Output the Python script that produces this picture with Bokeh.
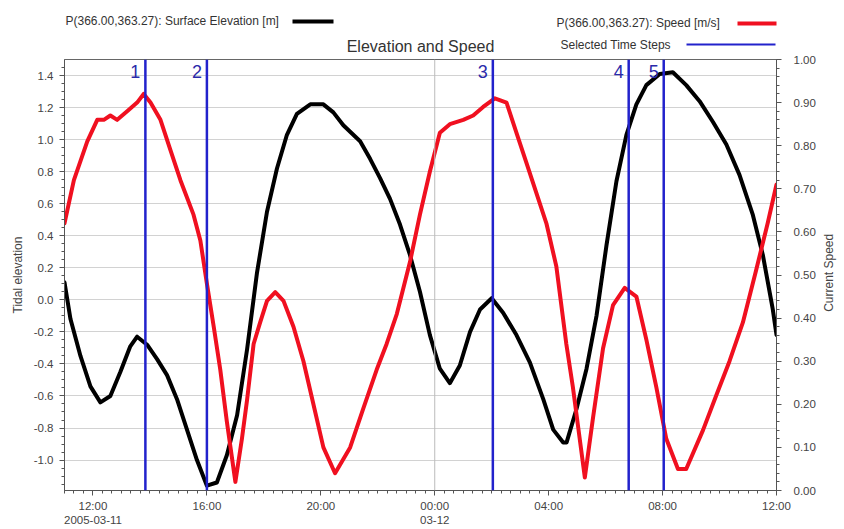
import math
import numpy as np
from bokeh.plotting import figure
from bokeh.layouts import column, row
from bokeh.models import Range1d, LinearAxis, FixedTicker, Span, Label, NumeralTickFormatter
from bokeh.core.properties import value
from bokeh.embed import file_html
from bokeh.resources import INLINE

# hours since 2005-03-11 00:00
elev_hours = [11.00, 11.21, 11.56, 11.91, 12.26, 12.61, 12.96, 13.31, 13.55, 13.90,
              14.25, 14.60, 14.95, 15.30, 15.65, 16.00, 16.35, 16.70, 17.06, 17.41,
              17.76, 18.11, 18.46, 18.81, 19.16, 19.63, 20.09, 20.44, 20.79, 21.38,
              21.73, 22.08, 22.43, 22.78, 23.13, 23.48, 23.83, 24.18, 24.53, 24.88,
              25.24, 25.59, 26.00, 26.40, 26.87, 27.34, 27.81, 28.16, 28.51, 28.63,
              28.98, 29.33, 29.68, 30.03, 30.38, 30.73, 31.08, 31.43, 31.90, 32.36,
              32.83, 33.30, 33.77, 34.24, 34.70, 35.17, 35.52, 35.87, 36.00]
elevation = [0.11, -0.12, -0.35, -0.54, -0.64, -0.60, -0.45, -0.29, -0.23, -0.28,
             -0.37, -0.47, -0.62, -0.81, -1.00, -1.16, -1.14, -0.97, -0.72, -0.31,
             0.17, 0.55, 0.82, 1.03, 1.16, 1.22, 1.22, 1.17, 1.09, 0.99,
             0.88, 0.76, 0.63, 0.47, 0.28, 0.05, -0.22, -0.43, -0.52, -0.41,
             -0.20, -0.06, 0.01, -0.08, -0.22, -0.39, -0.62, -0.81, -0.89, -0.89,
             -0.68, -0.43, -0.10, 0.34, 0.74, 1.03, 1.22, 1.34, 1.41, 1.42,
             1.34, 1.24, 1.11, 0.97, 0.78, 0.53, 0.28, -0.06, -0.22]

speed_hours = [11.00, 11.33, 11.80, 12.15, 12.38, 12.61, 12.85, 13.20, 13.55, 13.78,
               14.02, 14.37, 14.72, 15.07, 15.53, 15.77, 16.00, 16.24, 16.47, 16.70,
               17.00, 17.23, 17.41, 17.64, 17.87, 18.11, 18.40, 18.69, 19.04, 19.39,
               19.74, 20.09, 20.50, 21.03, 21.49, 21.96, 22.31, 22.67, 23.13, 23.48,
               23.83, 24.18, 24.53, 25.00, 25.35, 25.70, 26.11, 26.52, 26.87, 27.22,
               27.57, 27.92, 28.27, 28.62, 28.85, 29.27, 29.56, 29.91, 30.26, 30.67,
               31.08, 31.43, 31.78, 32.13, 32.54, 32.83, 33.42, 33.88, 34.35, 34.82,
               35.28, 35.69, 36.00]
speed = [0.62, 0.72, 0.81, 0.86, 0.86, 0.87, 0.86, 0.88, 0.90, 0.92,
         0.90, 0.86, 0.79, 0.72, 0.64, 0.58, 0.48, 0.38, 0.28, 0.16,
         0.02, 0.12, 0.21, 0.34, 0.39, 0.44, 0.46, 0.44, 0.38, 0.30,
         0.20, 0.10, 0.04, 0.10, 0.19, 0.28, 0.34, 0.41, 0.53, 0.64,
         0.74, 0.83, 0.85, 0.86, 0.87, 0.89, 0.91, 0.90, 0.83, 0.76,
         0.69, 0.62, 0.52, 0.34, 0.24, 0.03, 0.17, 0.33, 0.43, 0.47,
         0.45, 0.35, 0.24, 0.12, 0.05, 0.05, 0.14, 0.22, 0.30, 0.39,
         0.51, 0.62, 0.71]

step_hours = [13.84, 16.00, 26.04, 30.81, 32.04]
step_labels = ["1", "2", "3", "4", "5"]

x_ticks = [12, 16, 20, 24, 28, 32, 36]
x_tick_labels = ["12:00\n2005-03-11", "16:00", "20:00", "00:00\n03-12", "04:00", "08:00", "12:00"]
elev_ticks = [-1.0, -0.8, -0.6, -0.4, -0.2, 0.0, 0.2, 0.4, 0.6, 0.8, 1.0, 1.2, 1.4]
speed_ticks = [0.0, 0.1, 0.2, 0.3, 0.4, 0.5, 0.6, 0.7, 0.8, 0.9, 1.0]

legend_elev = "P(366.00,363.27): Surface Elevation [m]"
legend_speed = "P(366.00,363.27): Speed [m/s]"
legend_steps = "Selected Time Steps"
title_text = "Elevation and Speed"
right_axis_label = "Current Speed"

FONT = "Liberation Sans"
TXT = "#444444"
RED = "#f01020"
BLUE = "#2222cc"

FL, FR = 64, 777      # frame left / right in page pixels
HH = 55               # header height
SW = 26               # width of the strip holding the right axis title
BT, BB = 4, 39        # main plot top / bottom borders

# ---------- header (legend + title) ----------
hdr = figure(width=844, height=HH, output_backend="svg", toolbar_location=None,
             x_range=Range1d(FL, FR), y_range=Range1d(HH, 0),
             x_axis_type=None, y_axis_type=None,
             min_border_left=FL, min_border_right=844 - FR, min_border_top=0, min_border_bottom=0)
hdr.outline_line_color = None
hdr.grid.visible = False
hdr.text(x=[65], y=[20], text=[legend_elev], text_font=value(FONT), text_font_size="12px",
         text_baseline="middle", text_color="#333333")
hdr.line([292, 333], [21, 21], line_color="black", line_width=4)
hdr.text(x=[556], y=[22], text=[legend_speed], text_font=value(FONT), text_font_size="12px",
         text_baseline="middle", text_color="#333333")
hdr.line([737, 776], [23, 23], line_color=RED, line_width=4)
hdr.text(x=[560], y=[44], text=[legend_steps], text_font=value(FONT), text_font_size="12px",
         text_baseline="middle", text_color="#333333")
hdr.line([686, 775], [44, 44], line_color=BLUE, line_width=2)
hdr.text(x=[420], y=[45.5], text=[title_text], text_font=value(FONT), text_font_size="16px",
         text_align="center", text_baseline="middle", text_color="#333333")

# ---------- main plot ----------
p = figure(width=844 - SW, height=529 - HH, output_backend="svg", toolbar_location=None,
           x_range=Range1d(11, 36), y_range=Range1d(-1.19, 1.50),
           min_border_left=FL, min_border_right=844 - SW - FR, min_border_top=BT, min_border_bottom=BB)
p.extra_y_ranges = {"speed": Range1d(0, 1)}
p.background_fill_color = "white"
p.outline_line_color = "#666666"

p.xgrid.visible = False
p.ygrid.ticker = FixedTicker(ticks=elev_ticks)
p.ygrid.grid_line_color = "#d2d2d2"
p.add_layout(Span(location=24, dimension="height", line_color="#bbbbbb", line_width=1))

def style_axis(ax, standoff=5):
    ax.axis_line_color = "#555555"
    ax.major_tick_line_color = "#555555"
    ax.minor_tick_line_color = "#555555"
    ax.major_tick_out = 5
    ax.major_tick_in = 0
    ax.minor_tick_out = 3
    ax.minor_tick_in = 0
    ax.major_label_standoff = standoff
    ax.major_label_text_font = FONT
    ax.major_label_text_font_size = "11.5px"
    ax.major_label_text_color = TXT
    ax.axis_label_text_font = FONT
    ax.axis_label_text_font_size = "12px"
    ax.axis_label_text_font_style = "normal"
    ax.axis_label_text_color = TXT

xa = p.xaxis[0]
xa.ticker = FixedTicker(ticks=x_ticks, minor_ticks=list(np.arange(11, 36.01, 1 / 3)))
xa.major_label_overrides = {t: l for t, l in zip(x_ticks, x_tick_labels)}
style_axis(xa, 4)

ya = p.yaxis[0]
ya.ticker = FixedTicker(ticks=elev_ticks, minor_ticks=list(np.arange(-1.15, 1.5, 0.05)))
ya.formatter = NumeralTickFormatter(format="0.0")
ya.axis_label = "Tidal elevation"
ya.axis_label_standoff = 6
style_axis(ya, 6)

ra = LinearAxis(y_range_name="speed")
ra.ticker = FixedTicker(ticks=speed_ticks, minor_ticks=list(np.arange(0, 1.001, 0.02)))
ra.formatter = NumeralTickFormatter(format="0.00")
style_axis(ra, 12)
p.add_layout(ra, "right")

p.line(elev_hours, elevation, line_color="black", line_width=4, line_join="round", line_cap="round")
p.line(speed_hours, speed, line_color=RED, line_width=4, line_join="round", line_cap="round",
       y_range_name="speed")

for h, lab in zip(step_hours, step_labels):
    p.add_layout(Span(location=h, dimension="height", line_color=BLUE, line_width=2.5))
    p.add_layout(Label(x=h, y=1.425, text=lab, x_offset=-5, text_align="right",
                       text_baseline="middle", text_color="#2a2aaa",
                       text_font=FONT, text_font_size="18px"))

# ---------- strip with the right axis title (reads bottom-to-top) ----------
side = figure(width=SW, height=529 - HH, output_backend="svg", toolbar_location=None,
              x_range=Range1d(0, SW), y_range=Range1d(0, 1),
              x_axis_type=None, y_axis_type=None,
              min_border_left=0, min_border_right=0, min_border_top=BT, min_border_bottom=BB)
side.outline_line_color = None
side.grid.visible = False
side.text(x=[10], y=[0.505], text=[right_axis_label], angle=math.pi / 2,
          text_font=value(FONT), text_font_size="12px", text_align="center",
          text_baseline="middle", text_color=TXT)

layout = column(hdr, row(p, side, spacing=0), spacing=0)
open("out.html", "w").write(file_html(layout, INLINE))
